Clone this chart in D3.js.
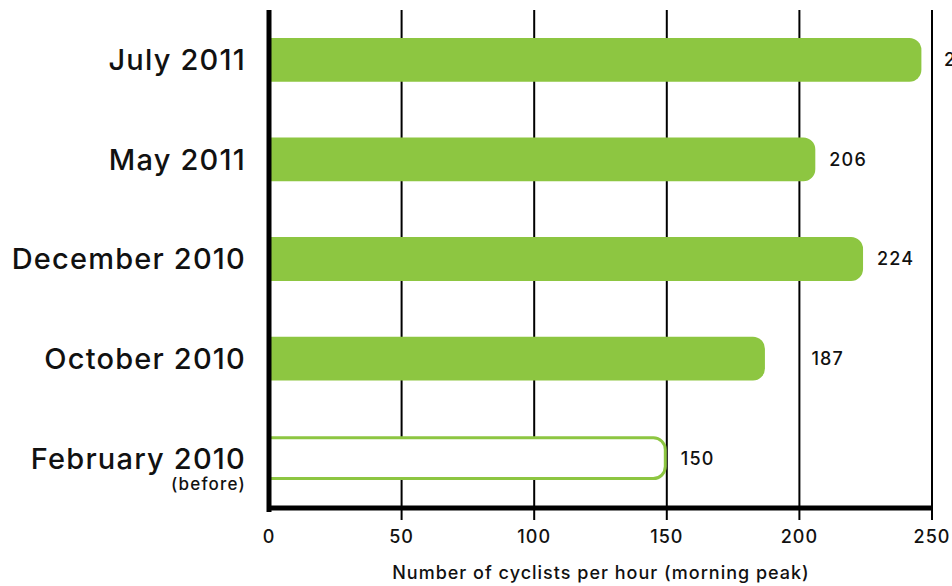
<!DOCTYPE html>
<html>
<head>
<meta charset="utf-8">
<script src="https://cdn.jsdelivr.net/npm/d3@7"></script>
<style>
  body { margin: 0; background: #fff; }
  text { font-family: Inter, "Open Sans", sans-serif; fill: #111; font-weight: 500; }
</style>
</head>
<body>
<script>
// data
var periods = ["July 2011", "May 2011", "December 2010", "October 2010", "February 2010"];
var cyclists = [246, 206, 224, 187, 150];
var isBaseline = [false, false, false, false, true];
var xTicks = [0, 50, 100, 150, 200, 250];

var width = 952, height = 586;
var margin = {top: 10, right: 20, bottom: 78, left: 269};
var green = "#8dc641";

var svg = d3.select("body").append("svg")
    .attr("width", width)
    .attr("height", height)
    .style("overflow", "hidden");

var xScale = d3.scaleLinear()
    .domain([0, 250])
    .range([margin.left, 932]);

var yScale = d3.scaleBand()
    .domain(periods)
    .range([margin.top, height - margin.bottom])
    .paddingInner(0.56)
    .paddingOuter(0.28);

var data = periods.map(function(p, i) {
  return {period: p, value: cyclists[i], base: isBaseline[i]};
});

var bottom = height - margin.bottom;

// vertical grid lines, sticking out a bit below the axis
svg.append("g")
  .selectAll("line")
  .data(xTicks.slice(1))
  .enter()
  .append("line")
    .attr("x1", function(d) { return xScale(d); })
    .attr("x2", function(d) { return xScale(d); })
    .attr("y1", margin.top)
    .attr("y2", bottom + 12)
    .attr("stroke", "#000")
    .attr("stroke-width", 2);

// bars, rounded on the right end only
function barPath(x0, x1, y, h, r) {
  return "M" + x0 + "," + y +
    "H" + (x1 - r) +
    "A" + r + "," + r + " 0 0 1 " + x1 + "," + (y + r) +
    "V" + (y + h - r) +
    "A" + r + "," + r + " 0 0 1 " + (x1 - r) + "," + (y + h) +
    "H" + x0 + "Z";
}

var bh = yScale.bandwidth();

svg.append("g")
  .selectAll("path")
  .data(data)
  .enter()
  .append("path")
    .attr("d", function(d) {
      var inset = d.base ? 1.5 : 0;
      return barPath(xScale(0), xScale(d.value) - inset, yScale(d.period) + inset, bh - 2 * inset, 12);
    })
    .attr("fill", function(d) { return d.base ? "#fff" : green; })
    .attr("stroke", function(d) { return d.base ? green : "none"; })
    .attr("stroke-width", 3);

// value labels: just past the bar, hopping over a grid line if one is in the way
function labelX(v) {
  var x = xScale(v) + 14;
  xTicks.forEach(function(t) {
    var gx = xScale(t);
    if (gx > x - 6 && gx < x + 40) x = gx + 12;
  });
  return x;
}

svg.append("g")
  .selectAll("text")
  .data(data)
  .enter()
  .append("text")
    .attr("x", function(d) { return labelX(d.value); })
    .attr("y", function(d) { return yScale(d.period) + bh / 2; })
    .attr("dy", "0.36em")
    .style("font-size", "18px")
    .style("letter-spacing", "1.2px")
    .text(function(d) { return d.value; });

// category labels
svg.append("g")
  .selectAll("text")
  .data(data)
  .enter()
  .append("text")
    .attr("x", 246)
    .attr("y", function(d) { return yScale(d.period) + bh / 2; })
    .attr("dy", "0.36em")
    .attr("text-anchor", "end")
    .style("font-size", "29px")
    .style("letter-spacing", "1.2px")
    .text(function(d) { return d.period; });

svg.append("text")
    .attr("x", 246)
    .attr("y", yScale("February 2010") + bh / 2 + 32)
    .attr("text-anchor", "end")
    .style("font-size", "17px")
    .style("letter-spacing", "1.2px")
    .text("(before)");

// axes lines (thick)
svg.append("line")
    .attr("x1", xScale(0))
    .attr("x2", xScale(0))
    .attr("y1", margin.top)
    .attr("y2", bottom + 4)
    .attr("stroke", "#000")
    .attr("stroke-width", 5);

svg.append("line")
    .attr("x1", xScale(0) - 2)
    .attr("x2", xScale(250) + 1)
    .attr("y1", bottom)
    .attr("y2", bottom)
    .attr("stroke", "#000")
    .attr("stroke-width", 5);

// tick labels
svg.append("g")
  .selectAll("text")
  .data(xTicks)
  .enter()
  .append("text")
    .attr("x", function(d) { return xScale(d); })
    .attr("y", bottom + 35)
    .attr("text-anchor", "middle")
    .style("font-size", "18px")
    .style("letter-spacing", "1px")
    .text(function(d) { return d; });

svg.append("text")
    .attr("x", 601)
    .attr("y", 579)
    .attr("text-anchor", "middle")
    .style("font-size", "18px")
    .style("letter-spacing", "1px")
    .text("Number of cyclists per hour (morning peak)");
</script>
</body>
</html>
